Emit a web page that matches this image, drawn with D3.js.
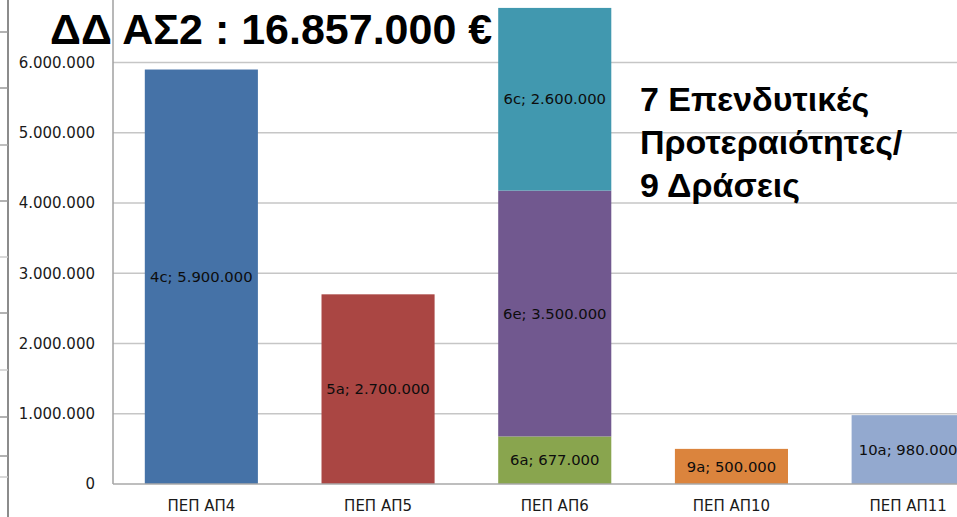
<!DOCTYPE html>
<html><head><meta charset="utf-8">
<script src="https://cdn.jsdelivr.net/npm/d3@7"></script>
<style>
html,body{margin:0;padding:0;background:#fff;overflow:hidden;}
svg{display:block;}
</style></head>
<body>
<svg id="c" width="957" height="517"></svg>
<script>
const categories = ["ΠΕΠ ΑΠ4","ΠΕΠ ΑΠ5","ΠΕΠ ΑΠ6","ΠΕΠ ΑΠ10","ΠΕΠ ΑΠ11"];
// stacked segments: category, code, value
const segCategory = ["ΠΕΠ ΑΠ4","ΠΕΠ ΑΠ5","ΠΕΠ ΑΠ6","ΠΕΠ ΑΠ6","ΠΕΠ ΑΠ6","ΠΕΠ ΑΠ10","ΠΕΠ ΑΠ11"];
const segCode     = ["4c","5a","6a","6e","6c","9a","10a"];
const segValue    = [5900000,2700000,677000,3500000,2600000,500000,980000];
const segColor    = ["#4572A7","#AA4643","#89A54E","#71588F","#4198AF","#DB843D","#93A9CF"];
const yTicks = [0,1000000,2000000,3000000,4000000,5000000,6000000];
const yMax = 7000000;
const titleText = "ΔΔ ΑΣ2 : 16.857.000 €";
const noteLines = ["7 Επενδυτικές","Προτεραιότητες/","9 Δράσεις"];

const svg = d3.select("#c");
const fmt = v => d3.format(",")(v).replace(/,/g,".");

const x = d3.scaleBand().domain(categories).range([113, 996.5]).paddingInner(0.36).paddingOuter(0.18);
const y = d3.scaleLinear().domain([0,yMax]).range([484, 484-7*70.25]);

// left decorative fragments
svg.append("line").attr("x1",8).attr("x2",8).attr("y1",0).attr("y2",517).attr("stroke","#8c8c8c").attr("stroke-width",2);
[[32,"#999"],[88,"#999"],[145,"#aaa"],[201,"#999"],[257,"#ccc"],[313,"#999"],[370,"#ccc"],[417,"#999"],[456,"#999"],[477,"#ccc"]].forEach(d=>{
  svg.append("line").attr("x1",0).attr("x2",8).attr("y1",d[0]).attr("y2",d[0]).attr("stroke",d[1]).attr("stroke-width",1.5);
});

// gridlines
svg.append("g").selectAll("line").data(yTicks.filter(t=>t>0)).join("line")
  .attr("x1",113).attr("x2",957).attr("y1",d=>y(d)).attr("y2",d=>y(d))
  .attr("stroke","#c6c6c6").attr("stroke-width",1.5);

// y axis
const yAxis = d3.axisLeft(y).tickValues(yTicks).tickFormat(fmt).tickSize(0).tickPadding(18);
const gy = svg.append("g").attr("transform","translate(113,0)").call(yAxis);
gy.select(".domain").attr("stroke","#a0a0a0").attr("stroke-width",1.5).attr("d","M0,0V484");
gy.selectAll("text").attr("font-family","DejaVu Sans").attr("font-size","15px").attr("fill","#1a1a1a");

// stacked bars
const base = {};
const segs = segValue.map((v,i)=>{
  const c = segCategory[i];
  const b = base[c]||0; base[c]=b+v;
  return {c, code:segCode[i], v, y0:b, y1:b+v, color:segColor[i]};
});
svg.append("g").selectAll("rect").data(segs).join("rect")
  .attr("x",d=>x(d.c)).attr("width",x.bandwidth())
  .attr("y",d=>y(d.y1)).attr("height",d=>y(d.y0)-y(d.y1))
  .attr("fill",d=>d.color);

svg.append("g").selectAll("text").data(segs).join("text")
  .attr("x",d=>x(d.c)+x.bandwidth()/2).attr("y",d=>(y(d.y0)+y(d.y1))/2)
  .attr("dy","0.35em").attr("text-anchor","middle")
  .attr("font-family","DejaVu Sans").attr("font-size","14.8px").attr("fill","#0d0d0d")
  .text(d=>d.code+"; "+fmt(d.v));

// x axis
const xAxis = d3.axisBottom(x).tickSize(0).tickPadding(16);
const gx = svg.append("g").attr("transform","translate(0,484)").call(xAxis);
gx.select(".domain").attr("stroke","#a8a8a8").attr("stroke-width",1.5).attr("d","M113,0H957");
gx.selectAll("text").attr("font-family","DejaVu Sans").attr("font-size","15px").attr("fill","#1a1a1a");

// title
svg.append("text").attr("x",50).attr("y",44).attr("font-family","Liberation Sans").attr("font-weight","bold")
  .attr("font-size","43px").attr("fill","#000").text(titleText);

// note
svg.append("g").selectAll("text").data(noteLines).join("text")
  .attr("x",640).attr("y",(d,i)=>111+i*43)
  .attr("font-family","Liberation Sans").attr("font-weight","bold").attr("font-size","34px").attr("fill","#000")
  .text(d=>d);
</script>
</body></html>
